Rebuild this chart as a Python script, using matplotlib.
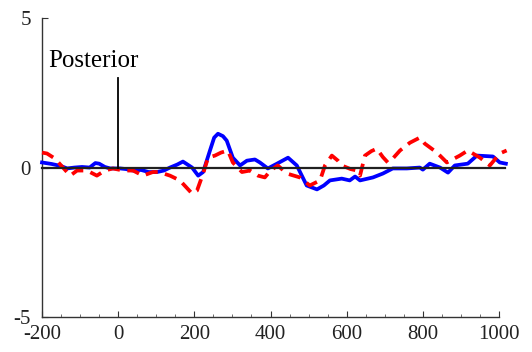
"""
Posterior-aligned traces: blue solid vs red dashed, around the zero line.
"""

import matplotlib
matplotlib.use("Agg")
import matplotlib.pyplot as plt
from matplotlib.ticker import MultipleLocator


# Blue (solid) trace
blue_x = [-200, -175, -150, -134, -115, -95, -75, -60, -50, -35, -21, 5, 20,
          39, 60, 80, 102, 120, 136, 155, 170, 182, 194, 210, 223, 241, 252,
          262, 275, 285, 301, 320, 338, 359, 372, 393, 417, 446, 469, 495,
          522, 540, 556, 587, 608, 622, 635, 669, 695, 721, 758, 792, 800,
          818, 845, 866, 884, 918, 942, 984, 1002, 1018]
blue_y = [0.17, 0.12, 0.05, -0.03, 0.0, 0.02, 0.0, 0.15, 0.13, 0.02, -0.03,
          -0.03, -0.05, -0.1, -0.08, -0.15, -0.15, -0.1, 0.0, 0.1, 0.2, 0.1,
          0.0, -0.27, -0.15, 0.57, 1.0, 1.13, 1.05, 0.9, 0.33, 0.07, 0.23,
          0.27, 0.17, -0.03, 0.13, 0.33, 0.07, -0.6, -0.73, -0.6, -0.43,
          -0.37, -0.43, -0.3, -0.43, -0.33, -0.2, -0.03, -0.03, 0.0, -0.07,
          0.13, 0.0, -0.17, 0.07, 0.13, 0.4, 0.37, 0.17, 0.13]

# Red (dashed) trace
red_x = [-200, -187, -166, -145, -126, -108, -82, -56, -35, -14, 13, 39, 65,
         91, 107, 136, 162, 194, 207, 223, 236, 254, 270, 288, 301, 325, 346,
         367, 385, 400, 419, 443, 477, 503, 530, 543, 561, 577, 587, 610, 627,
         635, 648, 665, 679, 695, 708, 721, 740, 766, 792, 805, 837, 863, 897,
         918, 950, 976, 1002, 1020]
red_y = [0.5, 0.47, 0.3, 0.0, -0.27, -0.1, -0.1, -0.27, -0.1, -0.03, -0.1,
         -0.1, -0.27, -0.15, -0.15, -0.27, -0.43, -0.87, -0.77, -0.2, 0.33,
         0.4, 0.5, 0.57, 0.17, -0.15, -0.1, -0.27, -0.33, -0.1, 0.07, -0.2,
         -0.33, -0.6, -0.43, 0.07, 0.4, 0.23, 0.07, -0.05, -0.1, -0.27, 0.4,
         0.55, 0.63, 0.35, 0.17, 0.3, 0.57, 0.83, 1.0, 0.8, 0.5, 0.17, 0.4,
         0.57, 0.33, 0.07, 0.47, 0.57]

x_ticks = [-200, 0, 200, 400, 600, 800, 1000]
y_ticks = [-5, 0, 5]
marker_x = 0
marker_top = 3.0
marker_label = "Posterior"

plt.rcParams["font.family"] = ["Liberation Serif", "DejaVu Serif"]

fig = plt.figure(figsize=(5.32, 3.52), dpi=100)
ax = fig.add_axes([0.079, 0.099, 0.859, 0.85])

ax.plot(blue_x, blue_y, color="#0000ff", linewidth=2.7, clip_on=False, zorder=3,
        solid_joinstyle="round")
ax.plot(red_x, red_y, color="#ff0000", linewidth=2.7, linestyle=(0, (3.3, 2.0)),
        clip_on=False, zorder=3)

# zero line and event marker
ax.plot([-200, 1015], [0, 0], color="#202020", linewidth=1.6, clip_on=False, zorder=4)
ax.plot([marker_x, marker_x], [0, marker_top], color="black", linewidth=1.3, zorder=4)
ax.text(-185, 3.2, marker_label, fontsize=18, ha="left", va="bottom")

ax.set_xlim(-200, 1000)
ax.set_ylim(-5, 5)
ax.set_xticks(x_ticks)
ax.set_yticks(y_ticks)
ax.set_xticklabels([str(v) for v in x_ticks])
ax.set_yticklabels([str(v) for v in y_ticks])
ax.xaxis.set_minor_locator(MultipleLocator(50))

ax.tick_params(direction="in", labelsize=15, length=4, width=0.8, colors="#333333",
               labelcolor="#222222", pad=6)
ax.tick_params(which="minor", direction="in", length=2.5, width=0.6, colors="#555555")
ax.tick_params(axis="y", pad=8)

ax.spines["top"].set_visible(False)
ax.spines["right"].set_visible(False)
for side in ("left", "bottom"):
    ax.spines[side].set_color("#333333")
    ax.spines[side].set_linewidth(1.0)

fig.savefig("out.png", dpi=100)
